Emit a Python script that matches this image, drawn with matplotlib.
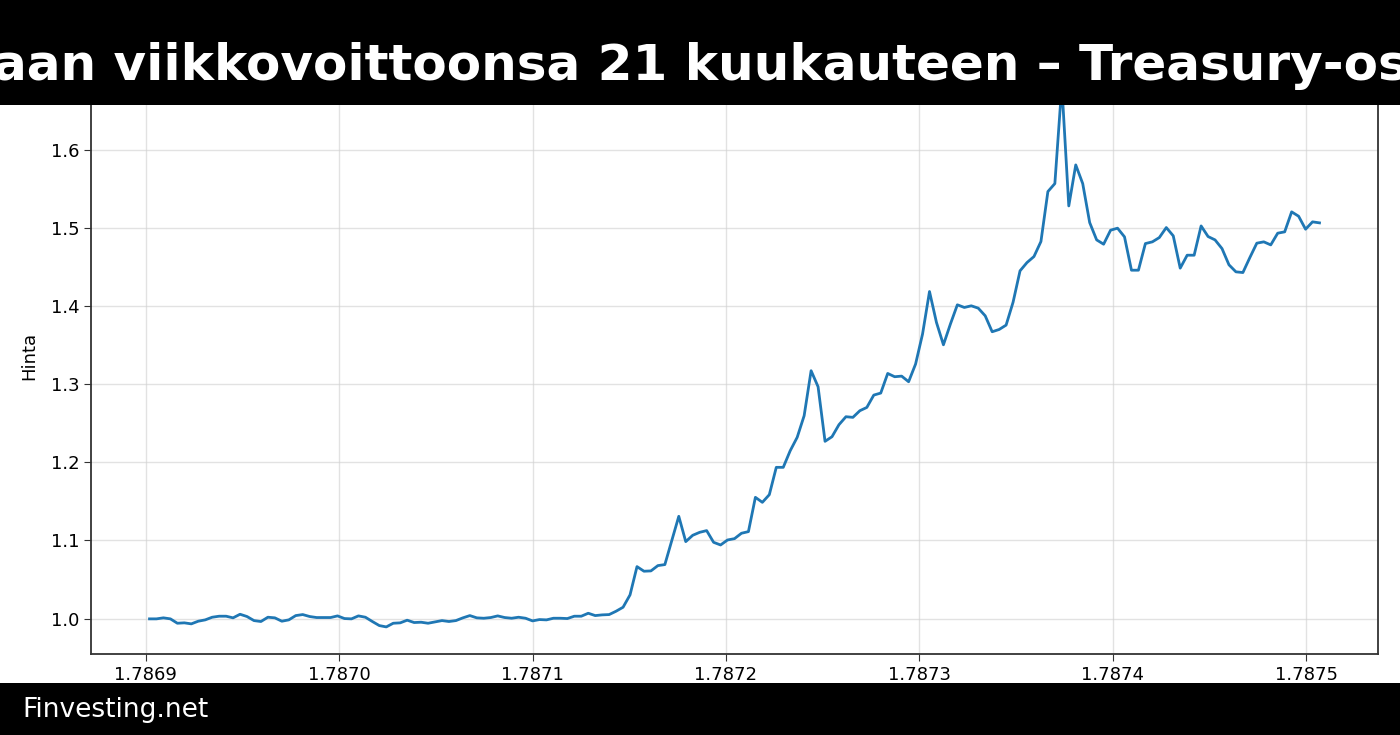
import numpy as np
import matplotlib
matplotlib.use("Agg")
import matplotlib.pyplot as plt
from matplotlib.patches import Rectangle

# tekstit
title_text = "aan viikkovoittoonsa 21 kuukauteen – Treasury-os"
footer_text = "Finvesting.net"
y_label = "Hinta"

# aikaleimat (unix-sekunteja), tunnin välein
t_start = 1786902000
t_step = 3600

# hinta tunneittain
prices = [
    0.9996, 0.9996, 1.0009, 0.9996, 0.9940, 0.9945, 0.9932, 0.9966, 0.9983, 1.0017,
    1.0030, 1.0030, 1.0009, 1.0055, 1.0026, 0.9974, 0.9962, 1.0017, 1.0009, 0.9966,
    0.9983, 1.0038, 1.0051, 1.0026, 1.0013, 1.0013, 1.0013, 1.0034, 1.0000, 0.9996,
    1.0034, 1.0017, 0.9962, 0.9910, 0.9893, 0.9940, 0.9945, 0.9979, 0.9949, 0.9953,
    0.9940, 0.9957, 0.9974, 0.9962, 0.9974, 1.0009, 1.0038, 1.0009, 1.0004, 1.0013,
    1.0034, 1.0013, 1.0004, 1.0017, 1.0004, 0.9970, 0.9987,
    0.9983, 1.0004, 1.0004, 1.0000, 1.0030, 1.0030, 1.0068, 1.0038, 1.0047, 1.0051,
    1.0094, 1.0145, 1.0303, 1.0665, 1.0606, 1.0610, 1.0678, 1.0691, 1.0998, 1.1309,
    1.0985, 1.1066, 1.1104, 1.1126, 1.0976, 1.0942, 1.1006, 1.1023, 1.1092, 1.1113,
    1.1552, 1.1488, 1.1586,
    1.1936, 1.1936, 1.2149, 1.2320, 1.2597, 1.3173, 1.2968, 1.2269, 1.2328, 1.2482,
    1.2584, 1.2576, 1.2661, 1.2703, 1.2861, 1.2887, 1.3138, 1.3096, 1.3104, 1.3032,
    1.3258, 1.3642, 1.4187, 1.3791, 1.3505, 1.3770, 1.4017, 1.3983, 1.4004, 1.3974,
    1.3876, 1.3672, 1.3701, 1.3757, 1.4050,
    1.4452, 1.4558, 1.4635, 1.4827, 1.5467, 1.5569, 1.6830, 1.5283, 1.5808, 1.5569,
    1.5070, 1.4848, 1.4793, 1.4972, 1.4998, 1.4887, 1.4460, 1.4460, 1.4801, 1.4823,
    1.4878, 1.5006, 1.4900, 1.4486, 1.4652, 1.4652, 1.5027, 1.4891, 1.4848, 1.4737,
    1.4529, 1.4439, 1.4430, 1.4622, 1.4806, 1.4823, 1.4784, 1.4934, 1.4951, 1.5207,
    1.5151, 1.4985, 1.5079, 1.5066,
]

times = t_start + t_step * np.arange(len(prices))

W, H = 1400, 735
fig = plt.figure(figsize=(W / 100, H / 100), dpi=100)
ax = fig.add_axes([91 / W, 81 / H, (1378 - 91) / W, (654 - 58) / H])

ax.plot(times, prices, color="#1f77b4", linewidth=2)

ax.grid(True, color="#d0d0d0", alpha=0.6, linewidth=1)
ax.set_ylabel(y_label, fontsize=13, labelpad=9)
ax.tick_params(labelsize=13, length=5, color="#333333")
ax.ticklabel_format(axis="x", useOffset=False)
for s in ax.spines.values():
    s.set_color("#333333")
    s.set_linewidth(1.3)

# musta otsikkopalkki ja alapalkki
fig.patches.append(Rectangle((0, 1 - 105 / H), 1, 105 / H, transform=fig.transFigure,
                             facecolor="black", edgecolor="none", zorder=10))
fig.patches.append(Rectangle((0, 0), 1, 52 / H, transform=fig.transFigure,
                             facecolor="black", edgecolor="none", zorder=10))

fig.text(0.5, 1 - 80 / H, title_text, color="white", fontsize=36, fontweight="bold",
         ha="center", va="baseline", zorder=11)
fig.text(22 / W, 18 / H, footer_text, color="white", fontsize=19,
         ha="left", va="baseline", zorder=11)

fig.savefig("out.png", dpi=100)
